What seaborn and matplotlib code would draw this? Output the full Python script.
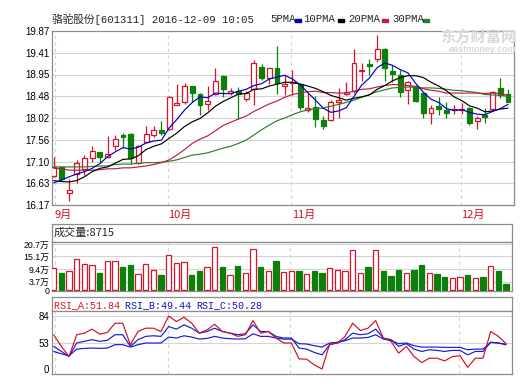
import numpy as np
import pandas as pd
import matplotlib
matplotlib.use('Agg')
import matplotlib.pyplot as plt
import matplotlib.patches as mpatches
import seaborn as sns

sns.set_theme(style='white')
plt.rcParams['font.family'] = ['Liberation Sans', 'Noto Sans CJK SC']

opens = [16.79,16.97,16.42,16.83,16.93,17.16,17.29,17.20,17.42,17.66,17.69,17.06,17.52,17.66,17.77,17.78,18.30,18.36,18.69,18.54,
         18.31,18.54,18.91,18.56,18.60,18.43,18.63,19.10,18.88,19.08,18.71,18.76,18.74,18.18,18.25,17.98,17.98,18.37,18.53,18.60,
         19.01,19.16,19.27,19.48,19.02,18.93,18.62,18.69,18.56,18.13,18.28,18.20,18.19,18.19,18.23,17.95,18.09,18.22,18.65,18.54]
highs = [17.20,16.99,16.72,17.13,17.23,17.42,17.30,17.64,17.66,17.71,17.71,17.44,17.84,17.85,17.96,18.49,18.74,18.77,18.70,18.56,
         18.70,19.08,18.93,18.65,18.67,18.59,19.25,19.17,19.09,19.55,18.93,19.04,18.76,18.56,18.49,18.06,18.40,18.65,18.79,19.48,
         19.18,19.27,19.79,19.50,19.15,19.04,18.81,18.72,18.58,18.30,18.46,18.37,18.30,18.33,18.25,18.06,18.23,18.60,18.88,18.63]
lows = [16.77,16.69,16.26,16.63,16.81,17.09,17.06,17.18,17.34,17.38,17.04,17.04,17.48,17.61,17.66,17.77,18.30,18.32,18.35,18.09,
        18.20,18.51,18.47,18.51,17.99,18.39,18.30,18.83,18.74,18.54,18.51,18.51,18.20,18.15,17.82,17.78,17.96,18.01,18.51,18.56,
        18.81,18.93,19.22,18.81,18.79,18.46,18.32,18.35,18.01,17.89,18.08,18.03,18.10,18.10,17.87,17.78,17.91,18.20,18.44,18.37]
closes = [16.97,16.72,16.48,17.07,17.16,17.32,17.20,17.25,17.57,17.61,17.16,17.42,17.69,17.77,17.71,18.47,18.33,18.69,18.56,18.29,
          18.38,18.81,18.64,18.60,18.53,18.56,19.20,18.86,19.08,18.77,18.74,18.79,18.26,18.23,17.99,17.86,18.37,18.40,18.58,19.20,
          19.04,19.13,19.49,19.08,18.96,18.58,18.78,18.39,18.12,18.23,18.22,18.13,18.22,18.22,17.92,18.03,18.05,18.58,18.51,18.37]
volumes = [9.75,7.65,8.55,13.8,11.7,11.25,7.65,12.9,12.9,10.2,11.25,7.2,11.55,8.85,6.75,15.6,12.0,12.45,6.75,8.55,
           10.2,19.2,10.35,6.75,10.8,7.5,18.3,10.35,8.4,13.05,7.95,8.4,8.4,7.2,8.4,7.65,9.75,8.85,8.4,17.85,
           7.5,10.35,17.85,8.4,6.3,8.85,7.5,8.85,11.25,7.5,7.05,5.85,5.25,5.85,6.75,5.25,5.85,10.65,8.4,2.7]

ma5 = [16.64,16.70,16.77,16.83,16.88,16.95,17.05,17.20,17.30,17.39,17.36,17.40,17.49,17.53,17.55,17.81,17.99,18.19,18.35,18.47,
       18.45,18.55,18.54,18.54,18.59,18.63,18.71,18.75,18.85,18.89,18.93,18.85,18.73,18.56,18.40,18.23,18.14,18.17,18.24,18.48,
       18.72,18.87,19.09,19.19,19.14,19.05,18.98,18.76,18.57,18.42,18.35,18.22,18.18,18.20,18.14,18.10,18.09,18.16,18.22,18.31]
ma10 = [16.69,16.67,16.66,16.69,16.77,16.88,16.95,16.98,17.06,17.14,17.15,17.22,17.35,17.42,17.47,17.59,17.70,17.84,17.94,18.01,
        18.13,18.27,18.37,18.45,18.53,18.54,18.63,18.64,18.70,18.74,18.78,18.78,18.74,18.70,18.65,18.58,18.50,18.45,18.40,18.44,
        18.47,18.51,18.63,18.71,18.81,18.88,18.92,18.92,18.88,18.78,18.70,18.60,18.47,18.39,18.28,18.23,18.15,18.17,18.21,18.23]
ma20 = [16.95,16.94,16.91,16.91,16.91,16.91,16.92,16.94,16.94,16.96,16.96,16.98,17.00,17.03,17.07,17.13,17.23,17.35,17.48,17.57,
        17.64,17.75,17.86,17.93,18.00,18.06,18.16,18.24,18.32,18.38,18.46,18.52,18.55,18.58,18.59,18.56,18.56,18.55,18.55,18.59,
        18.63,18.64,18.68,18.71,18.73,18.73,18.71,18.69,18.64,18.61,18.59,18.55,18.55,18.55,18.55,18.55,18.54,18.55,18.54,18.50]
ma30 = [16.98,16.98,16.98,16.98,16.98,16.99,17.00,17.00,17.03,17.04,17.04,17.06,17.07,17.07,17.08,17.10,17.13,17.18,17.23,17.25,
        17.28,17.33,17.38,17.42,17.48,17.55,17.66,17.77,17.87,17.96,18.02,18.09,18.15,18.19,18.22,18.23,18.27,18.31,18.35,18.40,
        18.46,18.52,18.58,18.62,18.66,18.67,18.68,18.67,18.66,18.66,18.65,18.63,18.61,18.60,18.58,18.56,18.52,18.51,18.50,18.48]

rsi_a = [62.5,46.1,25.5,62.5,64.3,68.9,63.2,65.1,75.7,75.7,49.6,66.2,70.0,70.0,66.2,84.0,77.6,82.5,75.7,64.3,
         68.1,74.5,66.2,64.3,60.6,62.5,78.7,64.3,66.2,58.7,53.0,53.0,20.7,20.0,8.3,0.0,50.9,53.0,60.6,75.7,
         67.4,70.0,78.7,58.7,54.9,32.4,46.1,25.5,13.1,22.0,22.0,16.5,25.5,26.9,3.5,22.0,22.0,66.2,60.6,51.84]
rsi_b = [46.1,35.8,25.5,53.0,54.9,56.8,54.9,56.0,62.5,62.5,46.1,56.8,60.6,61.3,60.6,71.9,68.9,73.8,70.0,64.3,
         66.2,70.0,66.2,64.3,62.5,63.6,73.8,66.2,66.2,60.6,58.7,58.7,42.7,40.6,33.7,28.9,49.6,53.0,56.8,64.3,
         62.5,63.6,68.9,58.7,56.8,46.1,51.6,40.6,35.8,39.2,37.9,35.8,37.9,37.9,28.9,35.8,35.8,53.8,53.0,49.44]
rsi_c = [35.8,31.0,26.8,40.6,42.0,42.7,42.0,42.7,49.6,49.6,44.7,49.6,53.0,53.0,53.0,59.8,58.7,61.3,59.8,57.5,
         58.3,60.6,58.7,57.9,57.5,57.9,63.6,60.6,60.6,58.7,57.5,57.5,51.6,50.9,47.5,44.7,53.0,53.8,55.6,58.7,
         58.7,59.4,62.5,57.5,56.0,51.6,53.0,47.5,44.7,44.7,44.7,44.1,44.1,44.1,39.2,40.6,40.6,53.8,53.0,50.28]

month_idx = [0, 15, 31, 53]
month_lbl = ['9月', '10月', '11月', '12月']
price_ticks = ['16.17', '16.63', '17.10', '17.56', '18.02', '18.48', '18.95', '19.41', '19.87']
vol_ticks = [0, 3.7, 9.4, 15.1, 20.7]
vol_tick_lbl = ['0', '3.7万', '9.4万', '15.1万', '20.7万']
rsi_ticks = [0, 53, 84]

RED = '#d7142d'
GREEN = '#0b800b'
C_MA5 = '#0000c0'
C_MA10 = '#000000'
C_MA20 = '#c01e3c'
C_MA30 = '#2e7d2e'
GRID = '#d4d4d4'
BORDER = '#8c8c8c'

W, H = 527, 387
def rect(l, t, r, b):
    return [l / W, 1 - b / H, (r - l) / W, (b - t) / H]

fig = plt.figure(figsize=(W / 100, H / 100), dpi=100)
fig.patch.set_facecolor('white')

n = len(closes)
idx = np.arange(n)
XL = (-0.22, n - 0.22)

def style(ax):
    for sp in ax.spines.values():
        sp.set_color(BORDER)
        sp.set_linewidth(0.9)
    ax.set_facecolor('white')
    ax.tick_params(axis='both', length=0, pad=2, labelsize=7, colors='black')
    ax.set_xlim(*XL)
    ax.set_xticks([])
    for m in month_idx[1:]:
        ax.axvline(m - 0.15, color=GRID, lw=0.8, ls=(0, (3, 3)), zorder=0)
    ax.axvline(0.2, color=GRID, lw=0.8, ls=(0, (3, 3)), zorder=0)

# ---- main price panel
ax = fig.add_axes(rect(52, 31, 514, 205))
style(ax)
yt = np.linspace(16.17, 19.87, 9)
ax.set_ylim(16.17, 19.87)
ax.set_yticks(yt)
ax.set_yticklabels(price_ticks)
for y in yt[1:-1]:
    ax.axhline(y, color=GRID, lw=0.8, zorder=0)

o = np.array(opens); c = np.array(closes); h = np.array(highs); l = np.array(lows)
up = c >= o
cols = np.where(up, RED, GREEN)
ax.vlines(idx, l, h, colors=cols, lw=0.9, zorder=3)
body_b = np.minimum(o, c)
body_h = np.maximum(np.abs(c - o), 0.012)
ax.bar(idx, body_h, bottom=body_b, width=0.64, color=np.where(up, 'white', GREEN),
       edgecolor=cols, linewidth=0.9, zorder=4)

ma_df = pd.DataFrame({'i': idx, 'ma5': ma5, 'ma10': ma10, 'ma20': ma20, 'ma30': ma30})
for col, cc in [('ma30', C_MA30), ('ma20', C_MA20), ('ma10', C_MA10), ('ma5', C_MA5)]:
    sns.lineplot(data=ma_df, x='i', y=col, ax=ax, color=cc, lw=0.85, zorder=5)
ax.set_xlabel(''); ax.set_ylabel('')
ax.set_xlim(*XL)

for m, lb in zip(month_idx, month_lbl):
    ax.text(m - 0.1 if m else 0.15, 15.95, lb, color='#d01020', fontsize=8, ha='left', va='center',
            family=['Noto Sans CJK SC'])

# watermark
fig.text(478 / W, 1 - 37 / H, '东方财富网', color='#d9d9d9', fontsize=11, fontweight='bold',
         ha='center', va='center', family=['Noto Sans CJK SC'])
fig.text(483 / W, 1 - 50 / H, 'eastmoney.com', color='#d9d9d9', fontsize=6.5, fontweight='bold',
         style='italic', ha='center', va='center')

# title row
TF = ['Liberation Mono', 'Noto Sans CJK SC']
fig.text(52 / W, 1 - 19 / H, '骆驼股份[601311] 2016-12-09 10:05', fontsize=7.7, family=TF, ha='left', va='center')
for x0, lab, xd, cc in [(270, '5PMA', 295, C_MA5), (303, '10PMA', 338, C_MA10),
                        (348, '20PMA', 382, C_MA20), (392, '30PMA', 423, C_MA30)]:
    fig.text(x0 / W, 1 - 19 / H, lab, fontsize=7.7, family=TF, ha='left', va='center')
    fig.patches.append(mpatches.Rectangle((xd / W, 1 - 22 / H), 6 / W, 3 / H,
                       transform=fig.transFigure, color=cc, figure=fig))

# ---- volume panel
axh = fig.add_axes(rect(52, 224, 512, 242))
axh.set_xticks([]); axh.set_yticks([])
for sp in axh.spines.values():
    sp.set_color(BORDER); sp.set_linewidth(0.9)
axh.text(0.003, 0.5, '成交量:8715', fontsize=8, ha='left', va='center', transform=axh.transAxes,
         family=['Noto Sans CJK SC'])

axv = fig.add_axes(rect(52, 242, 512, 291))
style(axv)
axv.set_ylim(-0.45, 21.6)
axv.set_yticks(vol_ticks)
axv.set_yticklabels(vol_tick_lbl)
axv.tick_params(axis='y', labelsize=6.3)
for y in vol_ticks[1:]:
    axv.axhline(y, color=GRID, lw=0.8, zorder=0)
vol = np.array(volumes)
axv.bar(idx, vol, width=0.7, color=np.where(up, 'white', GREEN), edgecolor=cols, linewidth=0.9, zorder=3)

# ---- RSI panel
axr_h = fig.add_axes(rect(52, 297, 512, 311))
axr_h.set_xticks([]); axr_h.set_yticks([])
for sp in axr_h.spines.values():
    sp.set_color(BORDER); sp.set_linewidth(0.9)
MF = ['Liberation Mono']
x0 = 0.004
for txt, cc in [('RSI_A:51.84 ', RED), ('RSI_B:49.44 ', '#1010c0'), ('RSI_C:50.28', '#1010c0')]:
    axr_h.text(x0, 0.45, txt, fontsize=7.2, color=cc, ha='left', va='center', transform=axr_h.transAxes, family=MF)
    x0 += len(txt) * 5.95 / 460

axr = fig.add_axes(rect(52, 311, 512, 374))
style(axr)
kv = [-200, 0, 53, 84, 300]
kp = [-200 * 26 / 53, 0, 26, 53, 53 + 216 * 27 / 31]
fwd = lambda v: np.interp(v, kv, kp)
inv = lambda p: np.interp(p, kp, kv)
axr.set_yscale('function', functions=(fwd, inv))
axr.set_ylim(inv(-5), inv(58))
axr.set_yticks(rsi_ticks)
axr.set_yticklabels([str(t) for t in rsi_ticks])
axr.axhline(53, color=GRID, lw=0.8, zorder=0)
axr.axhline(84, color=GRID, lw=0.8, zorder=0)
rdf = pd.DataFrame({'i': idx, 'a': rsi_a, 'b': rsi_b, 'c': rsi_c})
sns.lineplot(data=rdf, x='i', y='c', ax=axr, color='#1a1ad0', lw=0.85)
sns.lineplot(data=rdf, x='i', y='b', ax=axr, color='#1a1ad0', lw=0.85)
sns.lineplot(data=rdf, x='i', y='a', ax=axr, color='#d01020', lw=0.85)
axr.set_xlabel(''); axr.set_ylabel('')
axr.set_xlim(*XL)

fig.savefig('out.png', dpi=100)
